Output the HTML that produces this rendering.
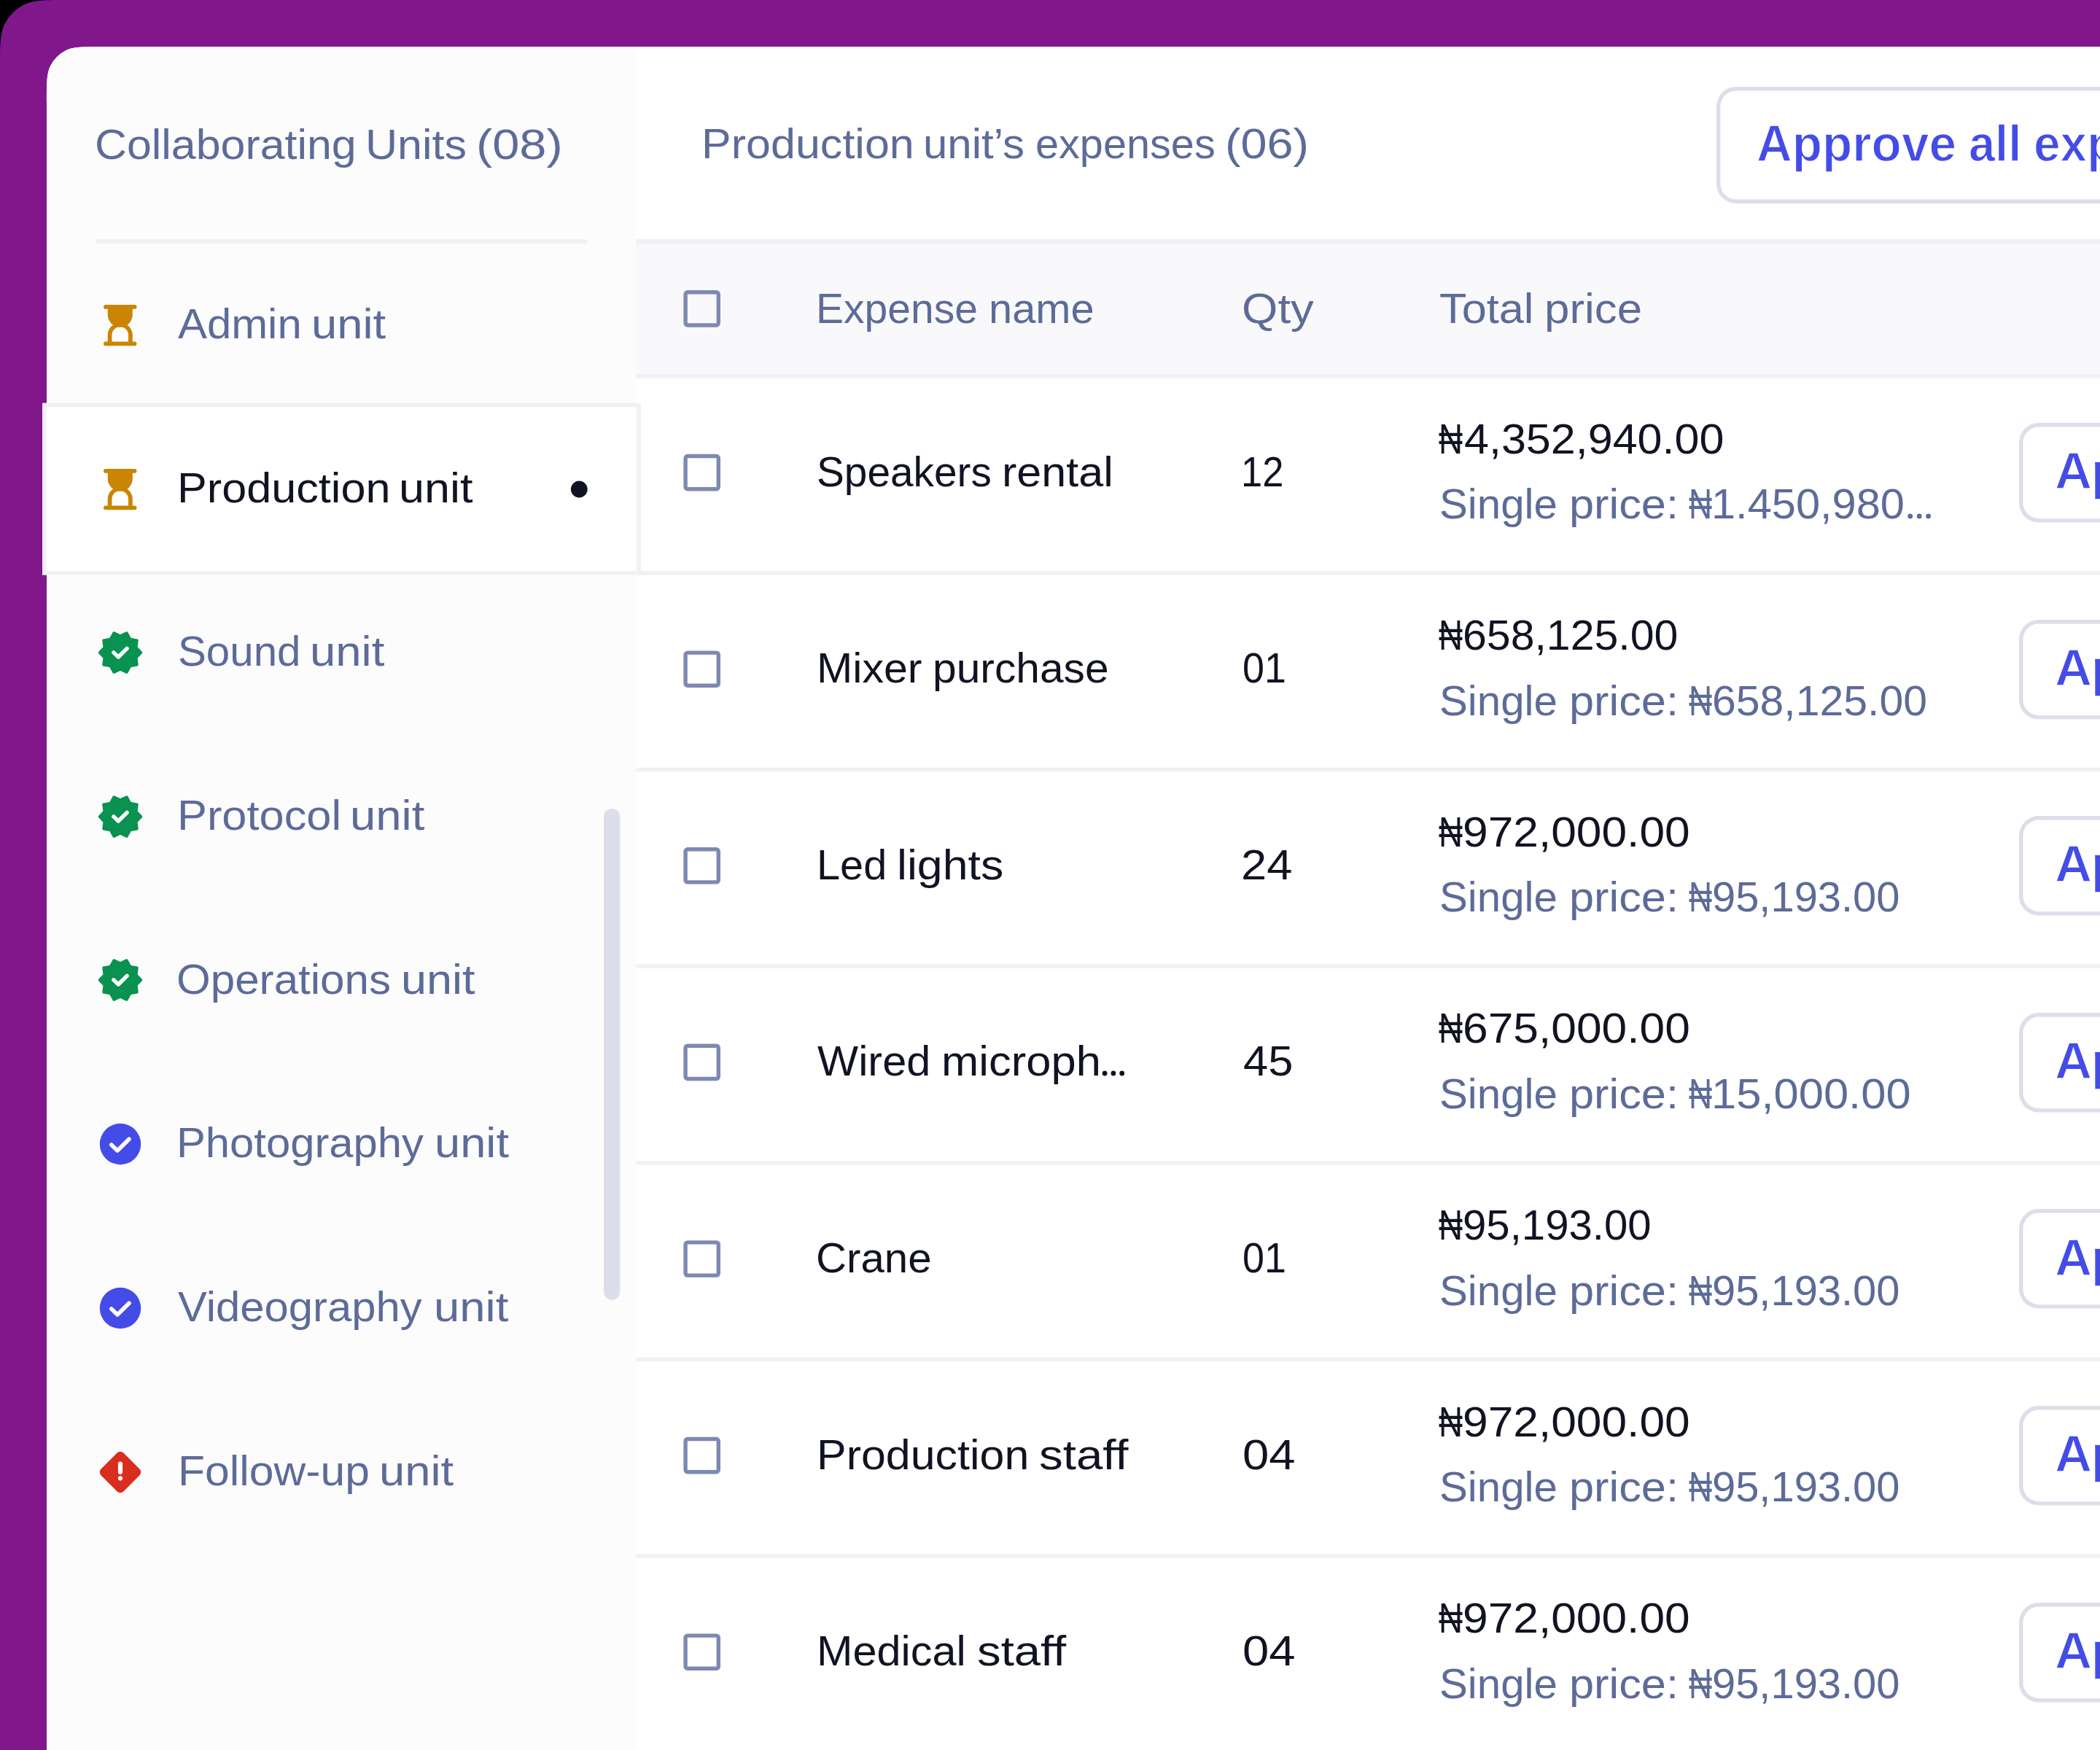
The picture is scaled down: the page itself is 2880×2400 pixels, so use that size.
<!DOCTYPE html>
<html lang="en"><head><meta charset="utf-8"><title>Production unit expenses</title>
<style>
html,body{margin:0;padding:0;background:#000}
#root{position:relative;width:2880px;height:2400px;overflow:hidden;background:#000;font-family:"Liberation Sans",sans-serif}
.t{position:absolute;white-space:nowrap;line-height:80px;height:80px}
svg{position:absolute;overflow:visible}

</style></head><body><div id="root">
<svg style="left:0;top:0" width="2880" height="2400" viewBox="0 0 2880 2400"><path d="M96 0L3100 0L3100 2600L0 2600L0 96c0 -33.603 0 -50.405 6.54 -63.239a60 60 0 0 1 26.221 -26.221c12.835 -6.54 29.636 -6.54 63.239 -6.54Z" fill="#80188B"/><path d="M140.8 64L3064 64L3064 2564L64 2564L64 140.8c0 -26.883 0 -40.324 5.232 -50.592a48 48 0 0 1 20.977 -20.977c10.268 -5.232 23.709 -5.232 50.592 -5.232Z" fill="#fff"/><path d="M140.8 64L872.8 64L872.8 2564L64 2564L64 140.8c0 -26.883 0 -40.324 5.232 -50.592a48 48 0 0 1 20.977 -20.977c10.268 -5.232 23.709 -5.232 50.592 -5.232Z" fill="#FCFCFD"/></svg>
<svg style="left:0;top:0" width="2880" height="2400" viewBox="0 0 2880 2400"><rect x="131.20" y="328.10" width="674.30" height="5.70" fill="#EFF1F5"/><rect x="872.80" y="327.80" width="2010.00" height="191.10" fill="#EFF1F5"/><rect x="872.80" y="333.80" width="2010.00" height="179.40" fill="#F9F9FB"/><rect x="872.80" y="783.10" width="2010.00" height="5.60" fill="#EFF1F5"/><rect x="872.80" y="1052.70" width="2010.00" height="5.60" fill="#EFF1F5"/><rect x="872.80" y="1322.30" width="2010.00" height="5.60" fill="#EFF1F5"/><rect x="872.80" y="1591.90" width="2010.00" height="5.60" fill="#EFF1F5"/><rect x="872.80" y="1861.50" width="2010.00" height="5.60" fill="#EFF1F5"/><rect x="872.80" y="2131.10" width="2010.00" height="5.60" fill="#EFF1F5"/><rect x="872.80" y="2400.70" width="2010.00" height="5.60" fill="#EFF1F5"/><rect x="58.00" y="552.60" width="820.80" height="236.10" fill="#EFF1F5"/><rect x="63.60" y="558.20" width="809.60" height="224.90" fill="#fff"/><rect x="828.00" y="1109.00" width="22.40" height="673.80" rx="11.2" fill="#DCDFEA"/><circle cx="794.3" cy="671" r="11.4" fill="#111322"/><rect x="937.40" y="398.10" width="50.60" height="50.60" rx="5.6" fill="#7D89B0"/><rect x="942.80" y="403.50" width="39.80" height="39.80" rx="0.6" fill="#F9F9FB"/><rect x="937.40" y="622.80" width="50.60" height="50.60" rx="5.6" fill="#7D89B0"/><rect x="942.80" y="628.20" width="39.80" height="39.80" rx="0.6" fill="#fff"/><rect x="937.40" y="892.40" width="50.60" height="50.60" rx="5.6" fill="#7D89B0"/><rect x="942.80" y="897.80" width="39.80" height="39.80" rx="0.6" fill="#fff"/><rect x="937.40" y="1162.00" width="50.60" height="50.60" rx="5.6" fill="#7D89B0"/><rect x="942.80" y="1167.40" width="39.80" height="39.80" rx="0.6" fill="#fff"/><rect x="937.40" y="1431.60" width="50.60" height="50.60" rx="5.6" fill="#7D89B0"/><rect x="942.80" y="1437.00" width="39.80" height="39.80" rx="0.6" fill="#fff"/><rect x="937.40" y="1701.20" width="50.60" height="50.60" rx="5.6" fill="#7D89B0"/><rect x="942.80" y="1706.60" width="39.80" height="39.80" rx="0.6" fill="#fff"/><rect x="937.40" y="1970.80" width="50.60" height="50.60" rx="5.6" fill="#7D89B0"/><rect x="942.80" y="1976.20" width="39.80" height="39.80" rx="0.6" fill="#fff"/><rect x="937.40" y="2240.40" width="50.60" height="50.60" rx="5.6" fill="#7D89B0"/><rect x="942.80" y="2245.80" width="39.80" height="39.80" rx="0.6" fill="#fff"/></svg>
<svg style="left:142.35px;top:417.90px" width="45.5" height="56.2" viewBox="0 0 45.5 56.2"><g fill="#CA8504"><rect x="0" y="0" width="45.5" height="5.8" rx="2.9"/><rect x="0" y="50.4" width="45.5" height="5.8" rx="2.9"/><path d="M5.7 3H39.8V13.6A17.05 17.05 0 0 1 5.7 13.6Z"/></g><path d="M8.58 53V41.5A14.17 14.17 0 0 1 36.92 41.5V53" fill="none" stroke="#CA8504" stroke-width="5.75"/></svg>
<svg style="left:142.35px;top:642.90px" width="45.5" height="56.2" viewBox="0 0 45.5 56.2"><g fill="#CA8504"><rect x="0" y="0" width="45.5" height="5.8" rx="2.9"/><rect x="0" y="50.4" width="45.5" height="5.8" rx="2.9"/><path d="M5.7 3H39.8V13.6A17.05 17.05 0 0 1 5.7 13.6Z"/></g><path d="M8.58 53V41.5A14.17 14.17 0 0 1 36.92 41.5V53" fill="none" stroke="#CA8504" stroke-width="5.75"/></svg>
<svg style="left:133.00px;top:863.10px" width="64" height="64" viewBox="-32 -32 64 64"><polygon points="28.50,0.00 21.87,7.11 23.06,16.75 13.52,18.61 8.81,27.11 0.00,23.00 -8.81,27.11 -13.52,18.61 -23.06,16.75 -21.87,7.11 -28.50,0.00 -21.87,-7.11 -23.06,-16.75 -13.52,-18.61 -8.81,-27.11 -0.00,-23.00 8.81,-27.11 13.52,-18.61 23.06,-16.75 21.87,-7.11" fill="#099250" stroke="#099250" stroke-width="3.4" stroke-linejoin="round"/><path d="M-9.1 -0.1L-2.7 6L9.1 -5.6" fill="none" stroke="#fff" stroke-width="5.4" stroke-linecap="round" stroke-linejoin="round"/></svg>
<svg style="left:133.00px;top:1087.75px" width="64" height="64" viewBox="-32 -32 64 64"><polygon points="28.50,0.00 21.87,7.11 23.06,16.75 13.52,18.61 8.81,27.11 0.00,23.00 -8.81,27.11 -13.52,18.61 -23.06,16.75 -21.87,7.11 -28.50,0.00 -21.87,-7.11 -23.06,-16.75 -13.52,-18.61 -8.81,-27.11 -0.00,-23.00 8.81,-27.11 13.52,-18.61 23.06,-16.75 21.87,-7.11" fill="#099250" stroke="#099250" stroke-width="3.4" stroke-linejoin="round"/><path d="M-9.1 -0.1L-2.7 6L9.1 -5.6" fill="none" stroke="#fff" stroke-width="5.4" stroke-linecap="round" stroke-linejoin="round"/></svg>
<svg style="left:133.00px;top:1312.40px" width="64" height="64" viewBox="-32 -32 64 64"><polygon points="28.50,0.00 21.87,7.11 23.06,16.75 13.52,18.61 8.81,27.11 0.00,23.00 -8.81,27.11 -13.52,18.61 -23.06,16.75 -21.87,7.11 -28.50,0.00 -21.87,-7.11 -23.06,-16.75 -13.52,-18.61 -8.81,-27.11 -0.00,-23.00 8.81,-27.11 13.52,-18.61 23.06,-16.75 21.87,-7.11" fill="#099250" stroke="#099250" stroke-width="3.4" stroke-linejoin="round"/><path d="M-9.1 -0.1L-2.7 6L9.1 -5.6" fill="none" stroke="#fff" stroke-width="5.4" stroke-linecap="round" stroke-linejoin="round"/></svg>
<svg style="left:133.10px;top:1537.30px" width="64" height="64" viewBox="-32 -32 64 64"><circle r="28.2" fill="#444CE7"/><path d="M-12.2 0.9L-4 8.9L12 -6.7" fill="none" stroke="#fff" stroke-width="5.6" stroke-linecap="round" stroke-linejoin="round"/></svg>
<svg style="left:133.10px;top:1761.95px" width="64" height="64" viewBox="-32 -32 64 64"><circle r="28.2" fill="#444CE7"/><path d="M-12.2 0.9L-4 8.9L12 -6.7" fill="none" stroke="#fff" stroke-width="5.6" stroke-linecap="round" stroke-linejoin="round"/></svg>
<svg style="left:133.10px;top:1986.90px" width="64" height="64" viewBox="-32 -32 64 64"><rect x="-21.75" y="-21.75" width="43.5" height="43.5" rx="6.2" transform="rotate(45)" fill="#D92D20"/><rect x="-3.1" y="-14.5" width="6.2" height="17.4" rx="3.1" fill="#fff"/><circle cx="0" cy="8.4" r="3.05" fill="#fff"/></svg>
<svg style="left:2353.9px;top:119.0px" width="700" height="160" viewBox="0 0 700 160"><path d="M35.1 0L664.9 0c7.53 0 11.296 0 14.403 0.746a27 27 0 0 1 19.951 19.951c0.746 3.107 0.746 6.873 0.746 14.403L700 124.9c0 7.53 0 11.296 -0.746 14.403a27 27 0 0 1 -19.951 19.951c-3.107 0.746 -6.873 0.746 -14.403 0.746L35.1 160c-7.53 0 -11.296 0 -14.403 -0.746a27 27 0 0 1 -19.951 -19.951c-0.746 -3.107 -0.746 -6.873 -0.746 -14.403L0 35.1c0 -7.53 0 -11.296 0.746 -14.403a27 27 0 0 1 19.951 -19.951c3.107 -0.746 6.873 -0.746 14.403 -0.746Z" fill="#DCDFEA"/><path d="M33.48 5.4L666.52 5.4c6.024 0 9.037 0 11.522 0.597a21.6 21.6 0 0 1 15.961 15.961c0.597 2.486 0.597 5.498 0.597 11.522L694.6 126.52c0 6.024 0 9.037 -0.597 11.522a21.6 21.6 0 0 1 -15.961 15.961c-2.486 0.597 -5.498 0.597 -11.522 0.597L33.48 154.6c-6.024 0 -9.037 0 -11.522 -0.597a21.6 21.6 0 0 1 -15.961 -15.961c-0.597 -2.486 -0.597 -5.498 -0.597 -11.522L5.4 33.48c0 -6.024 0 -9.037 0.597 -11.522a21.6 21.6 0 0 1 15.961 -15.961c2.486 -0.597 5.498 -0.597 11.522 -0.597Z" fill="#fff"/></svg>
<svg style="left:2769px;top:580.0px" width="400" height="136.6" viewBox="0 0 400 136.6"><path d="M35.1 0L364.9 0c7.53 0 11.296 0 14.403 0.746a27 27 0 0 1 19.951 19.951c0.746 3.107 0.746 6.873 0.746 14.403L400 101.5c0 7.53 0 11.296 -0.746 14.403a27 27 0 0 1 -19.951 19.951c-3.107 0.746 -6.873 0.746 -14.403 0.746L35.1 136.6c-7.53 0 -11.296 0 -14.403 -0.746a27 27 0 0 1 -19.951 -19.951c-0.746 -3.107 -0.746 -6.873 -0.746 -14.403L0 35.1c0 -7.53 0 -11.296 0.746 -14.403a27 27 0 0 1 19.951 -19.951c3.107 -0.746 6.873 -0.746 14.403 -0.746Z" fill="#DCDFEA"/><path d="M33.48 5.4L366.52 5.4c6.024 0 9.037 0 11.522 0.597a21.6 21.6 0 0 1 15.961 15.961c0.597 2.486 0.597 5.498 0.597 11.522L394.6 103.12c0 6.024 0 9.037 -0.597 11.522a21.6 21.6 0 0 1 -15.961 15.961c-2.486 0.597 -5.498 0.597 -11.522 0.597L33.48 131.2c-6.024 0 -9.037 0 -11.522 -0.597a21.6 21.6 0 0 1 -15.961 -15.961c-0.597 -2.486 -0.597 -5.498 -0.597 -11.522L5.4 33.48c0 -6.024 0 -9.037 0.597 -11.522a21.6 21.6 0 0 1 15.961 -15.961c2.486 -0.597 5.498 -0.597 11.522 -0.597Z" fill="#fff"/></svg>
<svg style="left:2769px;top:849.6px" width="400" height="136.6" viewBox="0 0 400 136.6"><path d="M35.1 0L364.9 0c7.53 0 11.296 0 14.403 0.746a27 27 0 0 1 19.951 19.951c0.746 3.107 0.746 6.873 0.746 14.403L400 101.5c0 7.53 0 11.296 -0.746 14.403a27 27 0 0 1 -19.951 19.951c-3.107 0.746 -6.873 0.746 -14.403 0.746L35.1 136.6c-7.53 0 -11.296 0 -14.403 -0.746a27 27 0 0 1 -19.951 -19.951c-0.746 -3.107 -0.746 -6.873 -0.746 -14.403L0 35.1c0 -7.53 0 -11.296 0.746 -14.403a27 27 0 0 1 19.951 -19.951c3.107 -0.746 6.873 -0.746 14.403 -0.746Z" fill="#DCDFEA"/><path d="M33.48 5.4L366.52 5.4c6.024 0 9.037 0 11.522 0.597a21.6 21.6 0 0 1 15.961 15.961c0.597 2.486 0.597 5.498 0.597 11.522L394.6 103.12c0 6.024 0 9.037 -0.597 11.522a21.6 21.6 0 0 1 -15.961 15.961c-2.486 0.597 -5.498 0.597 -11.522 0.597L33.48 131.2c-6.024 0 -9.037 0 -11.522 -0.597a21.6 21.6 0 0 1 -15.961 -15.961c-0.597 -2.486 -0.597 -5.498 -0.597 -11.522L5.4 33.48c0 -6.024 0 -9.037 0.597 -11.522a21.6 21.6 0 0 1 15.961 -15.961c2.486 -0.597 5.498 -0.597 11.522 -0.597Z" fill="#fff"/></svg>
<svg style="left:2769px;top:1119.2px" width="400" height="136.6" viewBox="0 0 400 136.6"><path d="M35.1 0L364.9 0c7.53 0 11.296 0 14.403 0.746a27 27 0 0 1 19.951 19.951c0.746 3.107 0.746 6.873 0.746 14.403L400 101.5c0 7.53 0 11.296 -0.746 14.403a27 27 0 0 1 -19.951 19.951c-3.107 0.746 -6.873 0.746 -14.403 0.746L35.1 136.6c-7.53 0 -11.296 0 -14.403 -0.746a27 27 0 0 1 -19.951 -19.951c-0.746 -3.107 -0.746 -6.873 -0.746 -14.403L0 35.1c0 -7.53 0 -11.296 0.746 -14.403a27 27 0 0 1 19.951 -19.951c3.107 -0.746 6.873 -0.746 14.403 -0.746Z" fill="#DCDFEA"/><path d="M33.48 5.4L366.52 5.4c6.024 0 9.037 0 11.522 0.597a21.6 21.6 0 0 1 15.961 15.961c0.597 2.486 0.597 5.498 0.597 11.522L394.6 103.12c0 6.024 0 9.037 -0.597 11.522a21.6 21.6 0 0 1 -15.961 15.961c-2.486 0.597 -5.498 0.597 -11.522 0.597L33.48 131.2c-6.024 0 -9.037 0 -11.522 -0.597a21.6 21.6 0 0 1 -15.961 -15.961c-0.597 -2.486 -0.597 -5.498 -0.597 -11.522L5.4 33.48c0 -6.024 0 -9.037 0.597 -11.522a21.6 21.6 0 0 1 15.961 -15.961c2.486 -0.597 5.498 -0.597 11.522 -0.597Z" fill="#fff"/></svg>
<svg style="left:2769px;top:1388.8px" width="400" height="136.6" viewBox="0 0 400 136.6"><path d="M35.1 0L364.9 0c7.53 0 11.296 0 14.403 0.746a27 27 0 0 1 19.951 19.951c0.746 3.107 0.746 6.873 0.746 14.403L400 101.5c0 7.53 0 11.296 -0.746 14.403a27 27 0 0 1 -19.951 19.951c-3.107 0.746 -6.873 0.746 -14.403 0.746L35.1 136.6c-7.53 0 -11.296 0 -14.403 -0.746a27 27 0 0 1 -19.951 -19.951c-0.746 -3.107 -0.746 -6.873 -0.746 -14.403L0 35.1c0 -7.53 0 -11.296 0.746 -14.403a27 27 0 0 1 19.951 -19.951c3.107 -0.746 6.873 -0.746 14.403 -0.746Z" fill="#DCDFEA"/><path d="M33.48 5.4L366.52 5.4c6.024 0 9.037 0 11.522 0.597a21.6 21.6 0 0 1 15.961 15.961c0.597 2.486 0.597 5.498 0.597 11.522L394.6 103.12c0 6.024 0 9.037 -0.597 11.522a21.6 21.6 0 0 1 -15.961 15.961c-2.486 0.597 -5.498 0.597 -11.522 0.597L33.48 131.2c-6.024 0 -9.037 0 -11.522 -0.597a21.6 21.6 0 0 1 -15.961 -15.961c-0.597 -2.486 -0.597 -5.498 -0.597 -11.522L5.4 33.48c0 -6.024 0 -9.037 0.597 -11.522a21.6 21.6 0 0 1 15.961 -15.961c2.486 -0.597 5.498 -0.597 11.522 -0.597Z" fill="#fff"/></svg>
<svg style="left:2769px;top:1658.4px" width="400" height="136.6" viewBox="0 0 400 136.6"><path d="M35.1 0L364.9 0c7.53 0 11.296 0 14.403 0.746a27 27 0 0 1 19.951 19.951c0.746 3.107 0.746 6.873 0.746 14.403L400 101.5c0 7.53 0 11.296 -0.746 14.403a27 27 0 0 1 -19.951 19.951c-3.107 0.746 -6.873 0.746 -14.403 0.746L35.1 136.6c-7.53 0 -11.296 0 -14.403 -0.746a27 27 0 0 1 -19.951 -19.951c-0.746 -3.107 -0.746 -6.873 -0.746 -14.403L0 35.1c0 -7.53 0 -11.296 0.746 -14.403a27 27 0 0 1 19.951 -19.951c3.107 -0.746 6.873 -0.746 14.403 -0.746Z" fill="#DCDFEA"/><path d="M33.48 5.4L366.52 5.4c6.024 0 9.037 0 11.522 0.597a21.6 21.6 0 0 1 15.961 15.961c0.597 2.486 0.597 5.498 0.597 11.522L394.6 103.12c0 6.024 0 9.037 -0.597 11.522a21.6 21.6 0 0 1 -15.961 15.961c-2.486 0.597 -5.498 0.597 -11.522 0.597L33.48 131.2c-6.024 0 -9.037 0 -11.522 -0.597a21.6 21.6 0 0 1 -15.961 -15.961c-0.597 -2.486 -0.597 -5.498 -0.597 -11.522L5.4 33.48c0 -6.024 0 -9.037 0.597 -11.522a21.6 21.6 0 0 1 15.961 -15.961c2.486 -0.597 5.498 -0.597 11.522 -0.597Z" fill="#fff"/></svg>
<svg style="left:2769px;top:1928.0px" width="400" height="136.6" viewBox="0 0 400 136.6"><path d="M35.1 0L364.9 0c7.53 0 11.296 0 14.403 0.746a27 27 0 0 1 19.951 19.951c0.746 3.107 0.746 6.873 0.746 14.403L400 101.5c0 7.53 0 11.296 -0.746 14.403a27 27 0 0 1 -19.951 19.951c-3.107 0.746 -6.873 0.746 -14.403 0.746L35.1 136.6c-7.53 0 -11.296 0 -14.403 -0.746a27 27 0 0 1 -19.951 -19.951c-0.746 -3.107 -0.746 -6.873 -0.746 -14.403L0 35.1c0 -7.53 0 -11.296 0.746 -14.403a27 27 0 0 1 19.951 -19.951c3.107 -0.746 6.873 -0.746 14.403 -0.746Z" fill="#DCDFEA"/><path d="M33.48 5.4L366.52 5.4c6.024 0 9.037 0 11.522 0.597a21.6 21.6 0 0 1 15.961 15.961c0.597 2.486 0.597 5.498 0.597 11.522L394.6 103.12c0 6.024 0 9.037 -0.597 11.522a21.6 21.6 0 0 1 -15.961 15.961c-2.486 0.597 -5.498 0.597 -11.522 0.597L33.48 131.2c-6.024 0 -9.037 0 -11.522 -0.597a21.6 21.6 0 0 1 -15.961 -15.961c-0.597 -2.486 -0.597 -5.498 -0.597 -11.522L5.4 33.48c0 -6.024 0 -9.037 0.597 -11.522a21.6 21.6 0 0 1 15.961 -15.961c2.486 -0.597 5.498 -0.597 11.522 -0.597Z" fill="#fff"/></svg>
<svg style="left:2769px;top:2197.6px" width="400" height="136.6" viewBox="0 0 400 136.6"><path d="M35.1 0L364.9 0c7.53 0 11.296 0 14.403 0.746a27 27 0 0 1 19.951 19.951c0.746 3.107 0.746 6.873 0.746 14.403L400 101.5c0 7.53 0 11.296 -0.746 14.403a27 27 0 0 1 -19.951 19.951c-3.107 0.746 -6.873 0.746 -14.403 0.746L35.1 136.6c-7.53 0 -11.296 0 -14.403 -0.746a27 27 0 0 1 -19.951 -19.951c-0.746 -3.107 -0.746 -6.873 -0.746 -14.403L0 35.1c0 -7.53 0 -11.296 0.746 -14.403a27 27 0 0 1 19.951 -19.951c3.107 -0.746 6.873 -0.746 14.403 -0.746Z" fill="#DCDFEA"/><path d="M33.48 5.4L366.52 5.4c6.024 0 9.037 0 11.522 0.597a21.6 21.6 0 0 1 15.961 15.961c0.597 2.486 0.597 5.498 0.597 11.522L394.6 103.12c0 6.024 0 9.037 -0.597 11.522a21.6 21.6 0 0 1 -15.961 15.961c-2.486 0.597 -5.498 0.597 -11.522 0.597L33.48 131.2c-6.024 0 -9.037 0 -11.522 -0.597a21.6 21.6 0 0 1 -15.961 -15.961c-0.597 -2.486 -0.597 -5.498 -0.597 -11.522L5.4 33.48c0 -6.024 0 -9.037 0.597 -11.522a21.6 21.6 0 0 1 15.961 -15.961c2.486 -0.597 5.498 -0.597 11.522 -0.597Z" fill="#fff"/></svg>
<div class="t" style="left:130.01px;top:157.8px;font-size:57.12px;color:#5D6B98;transform:scaleX(1.066);transform-origin:0 0;">Collaborating</div>
<div class="t" style="left:500.99px;top:157.8px;font-size:57.12px;color:#5D6B98;transform:scaleX(1.0692);transform-origin:0 0;">Units</div>
<div class="t" style="left:652.86px;top:157.8px;font-size:57.12px;color:#5D6B98;transform:scaleX(1.1686);transform-origin:0 0;">(08)</div>
<div class="t" style="left:244.38px;top:404.0px;font-size:57.12px;color:#5D6B98;transform:scaleX(1.0484);transform-origin:0 0;">Admin</div>
<div class="t" style="left:426.88px;top:404.0px;font-size:57.12px;color:#5D6B98;transform:scaleX(1.1097);transform-origin:0 0;">unit</div>
<div class="t" style="left:242.98px;top:628.65px;font-size:57.12px;color:#111322;transform:scaleX(1.0713);transform-origin:0 0;">Production</div>
<div class="t" style="left:547.31px;top:628.65px;font-size:57.12px;color:#111322;transform:scaleX(1.1029);transform-origin:0 0;">unit</div>
<div class="t" style="left:243.65px;top:853.3px;font-size:57.12px;color:#5D6B98;transform:scaleX(1.0204);transform-origin:0 0;">Sound</div>
<div class="t" style="left:424.88px;top:853.3px;font-size:57.12px;color:#5D6B98;transform:scaleX(1.1109);transform-origin:0 0;">unit</div>
<div class="t" style="left:242.96px;top:1077.95px;font-size:57.12px;color:#5D6B98;transform:scaleX(1.0746);transform-origin:0 0;">Protocol</div>
<div class="t" style="left:479.78px;top:1077.95px;font-size:57.12px;color:#5D6B98;transform:scaleX(1.1109);transform-origin:0 0;">unit</div>
<div class="t" style="left:242.45px;top:1302.6px;font-size:57.12px;color:#5D6B98;transform:scaleX(1.0525);transform-origin:0 0;">Operations</div>
<div class="t" style="left:549.71px;top:1302.6px;font-size:57.12px;color:#5D6B98;transform:scaleX(1.1029);transform-origin:0 0;">unit</div>
<div class="t" style="left:242.4px;top:1527.25px;font-size:57.12px;color:#5D6B98;transform:scaleX(1.0465);transform-origin:0 0;">Photography</div>
<div class="t" style="left:596.29px;top:1527.25px;font-size:57.12px;color:#5D6B98;transform:scaleX(1.1074);transform-origin:0 0;">unit</div>
<div class="t" style="left:244.34px;top:1751.9px;font-size:57.12px;color:#5D6B98;transform:scaleX(1.0467);transform-origin:0 0;">Videography</div>
<div class="t" style="left:594.58px;top:1751.9px;font-size:57.12px;color:#5D6B98;transform:scaleX(1.1109);transform-origin:0 0;">unit</div>
<div class="t" style="left:243.62px;top:1976.55px;font-size:57.12px;color:#5D6B98;transform:scaleX(1.062);transform-origin:0 0;">Follow-up</div>
<div class="t" style="left:520.18px;top:1976.55px;font-size:57.12px;color:#5D6B98;transform:scaleX(1.1097);transform-origin:0 0;">unit</div>
<div class="t" style="left:961.59px;top:157.2px;font-size:57.12px;color:#5D6B98;transform:scaleX(1.0687);transform-origin:0 0;">Production</div>
<div class="t" style="left:1266.1px;top:157.2px;font-size:57.12px;color:#5D6B98;transform:scaleX(1.0505);transform-origin:0 0;">unit’s</div>
<div class="t" style="left:1419.65px;top:157.2px;font-size:57.12px;color:#5D6B98;transform:scaleX(1.0092);transform-origin:0 0;">expenses</div>
<div class="t" style="left:1679.58px;top:157.2px;font-size:57.12px;color:#5D6B98;transform:scaleX(1.1336);transform-origin:0 0;">(06)</div>
<div class="t" style="left:1119.32px;top:382.9px;font-size:57.12px;color:#5D6B98;transform:scaleX(0.999);transform-origin:0 0;">Expense</div>
<div class="t" style="left:1355.86px;top:382.9px;font-size:57.12px;color:#5D6B98;transform:scaleX(1.013);transform-origin:0 0;">name</div>
<div class="t" style="left:1702.99px;top:382.9px;font-size:57.12px;color:#5D6B98;transform:scaleX(1.1125);transform-origin:0 0;">Qty</div>
<div class="t" style="left:1973.62px;top:382.9px;font-size:57.12px;color:#5D6B98;transform:scaleX(1.0733);transform-origin:0 0;">Total</div>
<div class="t" style="left:2117.71px;top:382.9px;font-size:57.12px;color:#5D6B98;transform:scaleX(1.0828);transform-origin:0 0;">price</div>
<div class="t" style="left:1120.22px;top:606.5px;font-size:57.12px;color:#111322;transform:scaleX(0.9941);transform-origin:0 0;">Speakers</div>
<div class="t" style="left:1374.34px;top:606.5px;font-size:57.12px;color:#111322;transform:scaleX(1.0692);transform-origin:0 0;">rental</div>
<div class="t" style="left:1702.0px;top:606.5px;font-size:57.12px;color:#111322;transform:scaleX(0.9201);transform-origin:0 0;">12</div>
<div class="t" style="left:1973.04px;top:561.5px;font-size:57.12px;color:#111322;transform:scaleX(0.8005);transform-origin:0 0;">₦</div>
<div class="t" style="left:2007.6px;top:561.5px;font-size:57.12px;color:#111322;transform:scaleX(1.0688);transform-origin:0 0;">4,352,940.00</div>
<div class="t" style="left:1974.15px;top:651.2px;font-size:57.12px;color:#5D6B98;transform:scaleX(1.02);transform-origin:0 0;">Single</div>
<div class="t" style="left:2151.95px;top:651.2px;font-size:57.12px;color:#5D6B98;transform:scaleX(1.0738);transform-origin:0 0;">price:</div>
<div class="t" style="left:2315.66px;top:651.2px;font-size:57.12px;color:#5D6B98;transform:scaleX(0.778);transform-origin:0 0;">₦</div>
<div class="t" style="left:2346.66px;top:651.2px;font-size:57.12px;color:#5D6B98;transform:scaleX(1.0429);transform-origin:0 0;">1.450,980</div>
<div class="t" style="left:2818.33px;top:606.26px;font-size:70.2px;color:#444CE7;font-weight:700;-webkit-text-stroke:1.4px #fff;transform:scaleX(1.009);transform-origin:0 0;">A</div>
<div class="t" style="left:2867.95px;top:606.26px;font-size:70.2px;color:#444CE7;font-weight:700;-webkit-text-stroke:1.4px #fff;transform:scaleX(0.9473);transform-origin:0 0;">pprove</div>
<div class="t" style="left:1119.65px;top:876.1px;font-size:57.12px;color:#111322;transform:scaleX(1.0354);transform-origin:0 0;">Mixer</div>
<div class="t" style="left:1279.11px;top:876.1px;font-size:57.12px;color:#111322;transform:scaleX(1.0284);transform-origin:0 0;">purchase</div>
<div class="t" style="left:1704.09px;top:876.1px;font-size:57.12px;color:#111322;transform:scaleX(0.9435);transform-origin:0 0;">01</div>
<div class="t" style="left:1973.04px;top:831.1px;font-size:57.12px;color:#111322;transform:scaleX(0.8005);transform-origin:0 0;">₦</div>
<div class="t" style="left:2006.0px;top:831.1px;font-size:57.12px;color:#111322;transform:scaleX(1.0332);transform-origin:0 0;">658,125.00</div>
<div class="t" style="left:1974.15px;top:920.8px;font-size:57.12px;color:#5D6B98;transform:scaleX(1.02);transform-origin:0 0;">Single</div>
<div class="t" style="left:2151.95px;top:920.8px;font-size:57.12px;color:#5D6B98;transform:scaleX(1.0738);transform-origin:0 0;">price:</div>
<div class="t" style="left:2315.66px;top:920.8px;font-size:57.12px;color:#5D6B98;transform:scaleX(0.778);transform-origin:0 0;">₦</div>
<div class="t" style="left:2348.21px;top:920.8px;font-size:57.12px;color:#5D6B98;transform:scaleX(1.0324);transform-origin:0 0;">658,125.00</div>
<div class="t" style="left:2818.33px;top:875.86px;font-size:70.2px;color:#444CE7;font-weight:700;-webkit-text-stroke:1.4px #fff;transform:scaleX(1.009);transform-origin:0 0;">A</div>
<div class="t" style="left:2867.95px;top:875.86px;font-size:70.2px;color:#444CE7;font-weight:700;-webkit-text-stroke:1.4px #fff;transform:scaleX(0.9473);transform-origin:0 0;">pprove</div>
<div class="t" style="left:1119.77px;top:1145.7px;font-size:57.12px;color:#111322;transform:scaleX(1.0102);transform-origin:0 0;">Led</div>
<div class="t" style="left:1230.18px;top:1145.7px;font-size:57.12px;color:#111322;transform:scaleX(1.0965);transform-origin:0 0;">lights</div>
<div class="t" style="left:1702.02px;top:1145.7px;font-size:57.12px;color:#111322;transform:scaleX(1.1072);transform-origin:0 0;">24</div>
<div class="t" style="left:1973.04px;top:1100.7px;font-size:57.12px;color:#111322;transform:scaleX(0.8005);transform-origin:0 0;">₦</div>
<div class="t" style="left:2006.08px;top:1100.7px;font-size:57.12px;color:#111322;transform:scaleX(1.0904);transform-origin:0 0;">972,000.00</div>
<div class="t" style="left:1974.15px;top:1190.4px;font-size:57.12px;color:#5D6B98;transform:scaleX(1.02);transform-origin:0 0;">Single</div>
<div class="t" style="left:2151.95px;top:1190.4px;font-size:57.12px;color:#5D6B98;transform:scaleX(1.0738);transform-origin:0 0;">price:</div>
<div class="t" style="left:2315.66px;top:1190.4px;font-size:57.12px;color:#5D6B98;transform:scaleX(0.778);transform-origin:0 0;">₦</div>
<div class="t" style="left:2348.49px;top:1190.4px;font-size:57.12px;color:#5D6B98;transform:scaleX(1.0134);transform-origin:0 0;">95,193.00</div>
<div class="t" style="left:2818.33px;top:1145.46px;font-size:70.2px;color:#444CE7;font-weight:700;-webkit-text-stroke:1.4px #fff;transform:scaleX(1.009);transform-origin:0 0;">A</div>
<div class="t" style="left:2867.95px;top:1145.46px;font-size:70.2px;color:#444CE7;font-weight:700;-webkit-text-stroke:1.4px #fff;transform:scaleX(0.9473);transform-origin:0 0;">pprove</div>
<div class="t" style="left:1120.84px;top:1415.3px;font-size:57.12px;color:#111322;transform:scaleX(1.0413);transform-origin:0 0;">Wired</div>
<div class="t" style="left:1290.81px;top:1415.3px;font-size:57.12px;color:#111322;transform:scaleX(1.0776);transform-origin:0 0;">microph</div>
<div class="t" style="left:1704.79px;top:1415.3px;font-size:57.12px;color:#111322;transform:scaleX(1.075);transform-origin:0 0;">45</div>
<div class="t" style="left:1973.04px;top:1370.3px;font-size:57.12px;color:#111322;transform:scaleX(0.8005);transform-origin:0 0;">₦</div>
<div class="t" style="left:2005.83px;top:1370.3px;font-size:57.12px;color:#111322;transform:scaleX(1.0912);transform-origin:0 0;">675,000.00</div>
<div class="t" style="left:1974.15px;top:1460.0px;font-size:57.12px;color:#5D6B98;transform:scaleX(1.02);transform-origin:0 0;">Single</div>
<div class="t" style="left:2151.95px;top:1460.0px;font-size:57.12px;color:#5D6B98;transform:scaleX(1.0738);transform-origin:0 0;">price:</div>
<div class="t" style="left:2315.66px;top:1460.0px;font-size:57.12px;color:#5D6B98;transform:scaleX(0.778);transform-origin:0 0;">₦</div>
<div class="t" style="left:2346.51px;top:1460.0px;font-size:57.12px;color:#5D6B98;transform:scaleX(1.0768);transform-origin:0 0;">15,000.00</div>
<div class="t" style="left:2818.33px;top:1415.06px;font-size:70.2px;color:#444CE7;font-weight:700;-webkit-text-stroke:1.4px #fff;transform:scaleX(1.009);transform-origin:0 0;">A</div>
<div class="t" style="left:2867.95px;top:1415.06px;font-size:70.2px;color:#444CE7;font-weight:700;-webkit-text-stroke:1.4px #fff;transform:scaleX(0.9473);transform-origin:0 0;">pprove</div>
<div class="t" style="left:1118.64px;top:1684.9px;font-size:57.12px;color:#111322;transform:scaleX(1.0199);transform-origin:0 0;">Crane</div>
<div class="t" style="left:1704.09px;top:1684.9px;font-size:57.12px;color:#111322;transform:scaleX(0.9435);transform-origin:0 0;">01</div>
<div class="t" style="left:1973.04px;top:1639.9px;font-size:57.12px;color:#111322;transform:scaleX(0.8005);transform-origin:0 0;">₦</div>
<div class="t" style="left:2006.27px;top:1639.9px;font-size:57.12px;color:#111322;transform:scaleX(1.0178);transform-origin:0 0;">95,193.00</div>
<div class="t" style="left:1974.15px;top:1729.6px;font-size:57.12px;color:#5D6B98;transform:scaleX(1.02);transform-origin:0 0;">Single</div>
<div class="t" style="left:2151.95px;top:1729.6px;font-size:57.12px;color:#5D6B98;transform:scaleX(1.0738);transform-origin:0 0;">price:</div>
<div class="t" style="left:2315.66px;top:1729.6px;font-size:57.12px;color:#5D6B98;transform:scaleX(0.778);transform-origin:0 0;">₦</div>
<div class="t" style="left:2348.49px;top:1729.6px;font-size:57.12px;color:#5D6B98;transform:scaleX(1.0134);transform-origin:0 0;">95,193.00</div>
<div class="t" style="left:2818.33px;top:1684.66px;font-size:70.2px;color:#444CE7;font-weight:700;-webkit-text-stroke:1.4px #fff;transform:scaleX(1.009);transform-origin:0 0;">A</div>
<div class="t" style="left:2867.95px;top:1684.66px;font-size:70.2px;color:#444CE7;font-weight:700;-webkit-text-stroke:1.4px #fff;transform:scaleX(0.9473);transform-origin:0 0;">pprove</div>
<div class="t" style="left:1119.5px;top:1954.5px;font-size:57.12px;color:#111322;transform:scaleX(1.0668);transform-origin:0 0;">Production</div>
<div class="t" style="left:1425.08px;top:1954.5px;font-size:57.12px;color:#111322;transform:scaleX(1.1463);transform-origin:0 0;">staff</div>
<div class="t" style="left:1703.65px;top:1954.5px;font-size:57.12px;color:#111322;transform:scaleX(1.1423);transform-origin:0 0;">04</div>
<div class="t" style="left:1973.04px;top:1909.5px;font-size:57.12px;color:#111322;transform:scaleX(0.8005);transform-origin:0 0;">₦</div>
<div class="t" style="left:2006.08px;top:1909.5px;font-size:57.12px;color:#111322;transform:scaleX(1.0904);transform-origin:0 0;">972,000.00</div>
<div class="t" style="left:1974.15px;top:1999.2px;font-size:57.12px;color:#5D6B98;transform:scaleX(1.02);transform-origin:0 0;">Single</div>
<div class="t" style="left:2151.95px;top:1999.2px;font-size:57.12px;color:#5D6B98;transform:scaleX(1.0738);transform-origin:0 0;">price:</div>
<div class="t" style="left:2315.66px;top:1999.2px;font-size:57.12px;color:#5D6B98;transform:scaleX(0.778);transform-origin:0 0;">₦</div>
<div class="t" style="left:2348.49px;top:1999.2px;font-size:57.12px;color:#5D6B98;transform:scaleX(1.0134);transform-origin:0 0;">95,193.00</div>
<div class="t" style="left:2818.33px;top:1954.26px;font-size:70.2px;color:#444CE7;font-weight:700;-webkit-text-stroke:1.4px #fff;transform:scaleX(1.009);transform-origin:0 0;">A</div>
<div class="t" style="left:2867.95px;top:1954.26px;font-size:70.2px;color:#444CE7;font-weight:700;-webkit-text-stroke:1.4px #fff;transform:scaleX(0.9473);transform-origin:0 0;">pprove</div>
<div class="t" style="left:1119.62px;top:2224.1px;font-size:57.12px;color:#111322;transform:scaleX(1.0405);transform-origin:0 0;">Medical</div>
<div class="t" style="left:1340.18px;top:2224.1px;font-size:57.12px;color:#111322;transform:scaleX(1.1435);transform-origin:0 0;">staff</div>
<div class="t" style="left:1703.65px;top:2224.1px;font-size:57.12px;color:#111322;transform:scaleX(1.1423);transform-origin:0 0;">04</div>
<div class="t" style="left:1973.04px;top:2179.1px;font-size:57.12px;color:#111322;transform:scaleX(0.8005);transform-origin:0 0;">₦</div>
<div class="t" style="left:2006.08px;top:2179.1px;font-size:57.12px;color:#111322;transform:scaleX(1.0904);transform-origin:0 0;">972,000.00</div>
<div class="t" style="left:1974.15px;top:2268.8px;font-size:57.12px;color:#5D6B98;transform:scaleX(1.02);transform-origin:0 0;">Single</div>
<div class="t" style="left:2151.95px;top:2268.8px;font-size:57.12px;color:#5D6B98;transform:scaleX(1.0738);transform-origin:0 0;">price:</div>
<div class="t" style="left:2315.66px;top:2268.8px;font-size:57.12px;color:#5D6B98;transform:scaleX(0.778);transform-origin:0 0;">₦</div>
<div class="t" style="left:2348.49px;top:2268.8px;font-size:57.12px;color:#5D6B98;transform:scaleX(1.0134);transform-origin:0 0;">95,193.00</div>
<div class="t" style="left:2818.33px;top:2223.86px;font-size:70.2px;color:#444CE7;font-weight:700;-webkit-text-stroke:1.4px #fff;transform:scaleX(1.009);transform-origin:0 0;">A</div>
<div class="t" style="left:2867.95px;top:2223.86px;font-size:70.2px;color:#444CE7;font-weight:700;-webkit-text-stroke:1.4px #fff;transform:scaleX(0.9473);transform-origin:0 0;">pprove</div>
<div class="t" style="left:2409.35px;top:157.41px;font-size:70.93px;color:#444CE7;font-weight:700;-webkit-text-stroke:1.4px #fff;transform:scaleX(0.9526);transform-origin:0 0;">Approve</div>
<div class="t" style="left:2699.86px;top:157.41px;font-size:70.93px;color:#444CE7;font-weight:700;-webkit-text-stroke:1.4px #fff;transform:scaleX(0.9154);transform-origin:0 0;">all</div>
<div class="t" style="left:2788.58px;top:157.41px;font-size:70.93px;color:#444CE7;font-weight:700;-webkit-text-stroke:1.4px #fff;transform:scaleX(0.9273);transform-origin:0 0;">expenses</div>
<svg style="left:0;top:0" width="2880" height="2400" viewBox="0 0 2880 2400"><circle cx="2619.70" cy="707.90" r="3.4" fill="#5D6B98"/><circle cx="2632.15" cy="707.90" r="3.4" fill="#5D6B98"/><circle cx="2644.60" cy="707.90" r="3.4" fill="#5D6B98"/><circle cx="1515.10" cy="1472.00" r="3.4" fill="#111322"/><circle cx="1526.90" cy="1472.00" r="3.4" fill="#111322"/><circle cx="1538.70" cy="1472.00" r="3.4" fill="#111322"/></svg>
</div></body></html>
